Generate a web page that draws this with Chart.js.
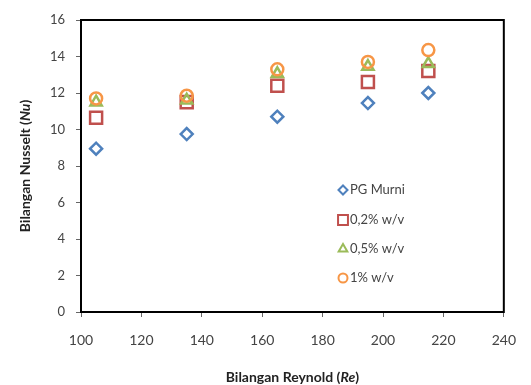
<!DOCTYPE html>
<html>
<head>
<meta charset="utf-8">
<script src="https://cdn.jsdelivr.net/npm/chart.js@4"></script>
<style>
  html, body { margin: 0; padding: 0; background: #fff; }
  #wrap { width: 531px; height: 385px; }
</style>
</head>
<body>
<div id="wrap"><canvas id="chart" width="531" height="385"></canvas></div>
<script>
// values
const reynolds = [105, 135, 165, 195, 215];
const pgMurni = [8.95, 9.75, 10.7, 11.45, 12.0];
const w02 = [10.65, 11.5, 12.4, 12.6, 13.2];
const w05 = [11.5, 11.6, 13.05, 13.45, 13.6];
const w1 = [11.7, 11.85, 13.3, 13.7, 14.35];
const seriesNames = ["PG Murni", "0,2% w/v", "0,5% w/v", "1% w/v"];
const xTicks = [100, 120, 140, 160, 180, 200, 220, 240];
const yTicks = [0, 2, 4, 6, 8, 10, 12, 14, 16];

const FONT = "Lato, 'Open Sans', sans-serif";
const styles = [
  { color: "#4F81BD", pointStyle: "rectRot", radius: 6 },
  { color: "#C0504D", pointStyle: "rect", radius: 8.5 },
  { color: "#9BBB59", pointStyle: "triangle", radius: 6.5 },
  { color: "#F79646", pointStyle: "circle", radius: 6 }
];

const pts = ys => reynolds.map((x, i) => ({ x, y: ys[i] }));
const allSeries = [pgMurni, w02, w05, w1];

const datasets = allSeries.map((ys, i) => ({
  label: seriesNames[i],
  data: pts(ys),
  pointStyle: styles[i].pointStyle,
  pointRadius: styles[i].radius,
  pointHoverRadius: styles[i].radius,
  pointBorderWidth: 2.5,
  borderColor: styles[i].color,
  pointBorderColor: styles[i].color,
  pointBackgroundColor: "rgba(255,255,255,0)",
  showLine: false,
  order: 3 - i
}));

// box around plot, axis titles with italic parts, legend inside plot
const decor = {
  id: "decor",
  afterDraw(chart){
    const ctx = chart.ctx, a = chart.chartArea;
    ctx.save();
    ctx.strokeStyle = "#000";
    ctx.lineWidth = 2;
    ctx.strokeRect(a.left, a.top, a.right - a.left, a.bottom - a.top);

    // mixed-style text helper
    function mixed(parts, cx, cy){
      let w = 0;
      parts.forEach(p => { ctx.font = p.font; w += ctx.measureText(p.t).width; });
      let x = cx - w / 2;
      ctx.textBaseline = "middle";
      ctx.textAlign = "left";
      parts.forEach(p => { ctx.font = p.font; ctx.fillText(p.t, x, cy); x += ctx.measureText(p.t).width; });
    }
    const b = "bold 14px " + FONT, bi = "italic bold 14px " + FONT;
    ctx.fillStyle = "#222";
    mixed([{t:"Bilangan Reynold (", font:b},{t:"Re", font:bi},{t:")", font:b}], (a.left + a.right) / 2, 377);
    ctx.save();
    ctx.translate(25, (a.top + a.bottom) / 2);
    ctx.rotate(-Math.PI / 2);
    mixed([{t:"Bilangan Nusselt (", font:b},{t:"Nu", font:bi},{t:")", font:b}], 0, 0);
    ctx.restore();

    // legend
    const lx = 343, ly = [190, 220, 249, 278];
    seriesNames.forEach((name, i) => {
      ctx.strokeStyle = styles[i].color;
      ctx.fillStyle = "rgba(255,255,255,0)";
      Chart.helpers.drawPoint(ctx, {
        pointStyle: styles[i].pointStyle,
        radius: styles[i].radius - 1.5,
        borderWidth: 2.5,
        rotation: 0
      }, lx, ly[i]);
      ctx.fillStyle = "#444";
      ctx.font = "13px " + FONT;
      ctx.textAlign = "left";
      ctx.textBaseline = "middle";
      ctx.fillText(name, lx + 7, ly[i]);
    });
    ctx.restore();
  }
};

new Chart(document.getElementById("chart"), {
  type: "scatter",
  data: { datasets },
  options: {
    responsive: false,
    animation: false,
    layout: { padding: { top: 20, right: 13, left: 0, bottom: 0 } },
    plugins: { legend: { display: false }, tooltip: { enabled: false } },
    scales: {
      x: {
        type: "linear", min: 100, max: 240,
        afterBuildTicks: s => { s.ticks = xTicks.map(v => ({ value: v })); },
        afterFit: s => { s.height = 73; },
        grid: { display: true, drawOnChartArea: false, drawTicks: true, tickLength: 5, color: "#666" },
        border: { display: false },
        ticks: { color: "#444", font: { family: FONT, size: 14 }, padding: 15 }
      },
      y: {
        type: "linear", min: 0, max: 16,
        afterBuildTicks: s => { s.ticks = yTicks.map(v => ({ value: v })); },
        afterFit: s => { s.width = 81; },
        grid: { display: true, drawOnChartArea: false, drawTicks: true, tickLength: 5, color: "#666" },
        border: { display: false },
        ticks: { color: "#444", font: { family: FONT, size: 13 }, padding: 11 }
      }
    }
  },
  plugins: [decor]
});
</script>
</body>
</html>
